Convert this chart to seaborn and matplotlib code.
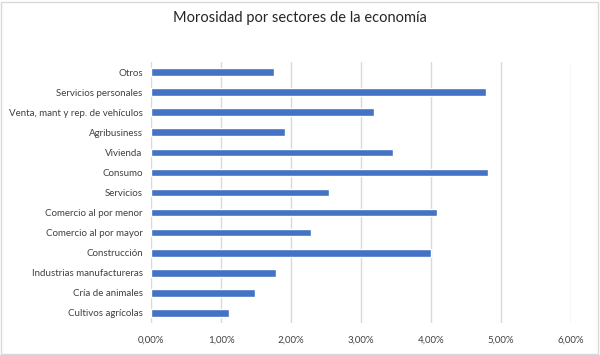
import matplotlib
matplotlib.use("Agg")
import matplotlib.pyplot as plt
import seaborn as sns
import pandas as pd
from matplotlib.ticker import FuncFormatter
from matplotlib.patches import Rectangle

categories = [
    "Otros",
    "Servicios personales",
    "Venta, mant y rep. de vehículos",
    "Agribusiness",
    "Vivienda",
    "Consumo",
    "Servicios",
    "Comercio al por menor",
    "Comercio al por mayor",
    "Construcción",
    "Industrias manufactureras",
    "Cría de animales",
    "Cultivos agrícolas",
]
values = [1.76, 4.78, 3.18, 1.91, 3.45, 4.82, 2.54, 4.09, 2.29, 4.00, 1.78, 1.49, 1.12]
xticks = [0, 1, 2, 3, 4, 5, 6]
title = "Morosidad por sectores de la economía"

df = pd.DataFrame({"sector": categories, "valor": values})

sns.set_theme(style="white")
plt.rcParams["font.family"] = ["Lato", "DejaVu Sans"]

fig = plt.figure(figsize=(6.0, 3.55), dpi=100)
ax = fig.add_axes([151 / 600, 1 - 323 / 355, 420 / 600, 261 / 355])

sns.barplot(data=df, x="valor", y="sector", order=categories, color="#4472C4",
            saturation=1, width=0.38, ax=ax)

ax.set_xlim(0, 6)
ax.set_ylim(len(categories) - 0.5, -0.5)
ax.set_xticks(xticks)
ax.xaxis.set_major_formatter(FuncFormatter(lambda v, p: f"{v:.2f}%".replace(".", ",")))
ax.grid(axis="x", color="#D9D9D9", linewidth=1)
ax.set_axisbelow(True)
for s in ax.spines.values():
    s.set_visible(False)
ax.set_xlabel("")
ax.set_ylabel("")
ax.tick_params(axis="both", length=0, labelsize=7, colors="#404040", pad=6)
ax.tick_params(axis="x", pad=9)

fig.text(0.5, 1 - 18 / 355, title, ha="center", va="center", fontsize=10.5, color="#262626")

fig.patches.append(Rectangle((0.002, 0.004), 0.994, 0.99, transform=fig.transFigure,
                             fill=False, edgecolor="#D9D9D9", linewidth=1))

fig.savefig("out.png", dpi=100)
